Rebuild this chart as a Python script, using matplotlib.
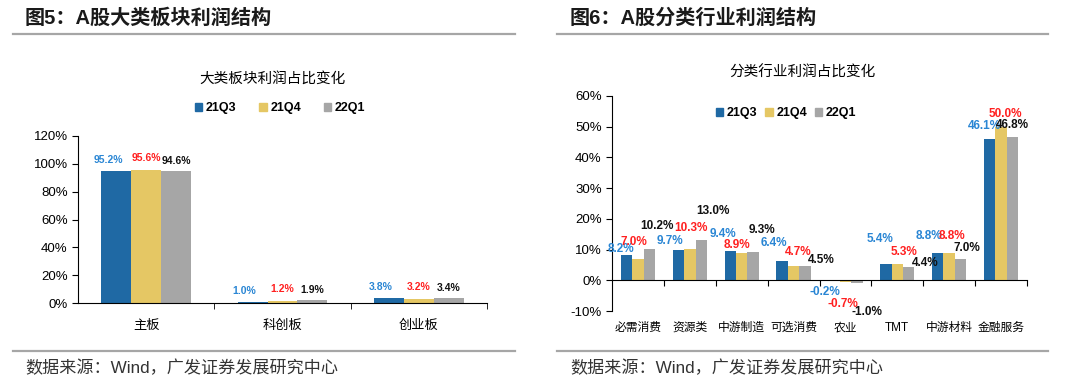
import matplotlib
matplotlib.use('Agg')
import matplotlib.pyplot as plt
from matplotlib.patches import Patch
from matplotlib.lines import Line2D
import numpy as np

plt.rcParams['font.family'] = ['Liberation Sans', 'Noto Sans CJK SC', 'DejaVu Sans']

series = ['21Q3', '21Q4', '22Q1']
bar_colors = ['#1F69A4', '#E5C764', '#A6A6A6']
label_colors = ['#2A86D4', '#FF2020', '#111111']

# 图5 data
board_cats = ['主板', '科创板', '创业板']
board_21q3 = [95.2, 1.0, 3.8]
board_21q4 = [95.6, 1.2, 3.2]
board_22q1 = [94.6, 1.9, 3.4]

# 图6 data
ind_cats = ['必需消费', '资源类', '中游制造', '可选消费', '农业', 'TMT', '中游材料', '金融服务']
ind_21q3 = [8.2, 9.7, 9.4, 6.4, -0.2, 5.4, 8.8, 46.1]
ind_21q4 = [7.0, 10.3, 8.9, 4.7, -0.7, 5.3, 8.8, 50.0]
ind_22q1 = [10.2, 13.0, 9.3, 4.5, -1.0, 4.4, 7.0, 46.8]

# label offsets in pixels (dx, dy) for the right chart, like the excel layout
ind_offsets = [
    [(-6, 6), (-8, 9), (-7, 17), (-8, 18), (-9, -11), (-6, 25), (-9, 17), (-5, 13)],
    [(-4, 17), (1, 21), (-5, 8), (5, 14), (-3, -22), (7, 12), (3, 17), (4, 13)],
    [(8, 23), (12, 29), (9, 22), (16, 6), (10, -29), (16, 4), (6, 11), (0, 12)],
]
board_offsets = [(-8, 11), (0, 12), (0, 10)]

W, H = 1080, 387
fig = plt.figure(figsize=(W / 100, H / 100), dpi=100)
bw = 0.22


def fx(px):
    return px / W


def fy(py):
    return 1 - py / H


# headers, rules and footnotes
for x0, x1, tx, title in [(13, 515, 25, '图5：A股大类板块利润结构'),
                          (557, 1048, 570, '图6：A股分类行业利润结构')]:
    fig.text(fx(tx), fy(18), title, fontsize=14.5, weight='bold', va='center', color='#1a1a1a')
    fig.add_artist(Line2D([fx(x0), fx(x1)], [fy(34), fy(34)], transform=fig.transFigure,
                          color='#A6A6A6', lw=1.6))
    fig.add_artist(Line2D([fx(x0), fx(x1)], [fy(351), fy(351)], transform=fig.transFigure,
                          color='#A6A6A6', lw=1.6))
    fig.text(fx(tx), fy(368), '数据来源：Wind，广发证券发展研究中心', fontsize=12.3,
             va='center', color='#333333')

# ---- left chart
ax1 = fig.add_axes([fx(78), fy(303), fx(487 - 78), (303 - 136) / H])
xs = np.arange(len(board_cats))
for j, vals in enumerate([board_21q3, board_21q4, board_22q1]):
    pos = xs + (j - 1) * bw
    ax1.bar(pos, vals, bw, color=bar_colors[j], label=series[j])
    for p, v in zip(pos, vals):
        dx, dy = board_offsets[j]
        ax1.annotate('%.1f%%' % v, (p, v), xytext=(dx, dy), textcoords='offset pixels',
                     ha='center', va='center', fontsize=7.5, weight='bold', color=label_colors[j])
ax1.set_xlim(-0.5, 2.5)
ax1.set_ylim(0, 120)
ax1.set_yticks(range(0, 121, 20))
ax1.set_yticklabels(['%d%%' % t for t in range(0, 121, 20)], fontsize=9.5)
ax1.set_xticks(xs)
ax1.set_xticklabels(board_cats, fontsize=9.5)
ax1.set_xticks([0.5, 1.5, 2.5], minor=True)
ax1.tick_params(axis='x', which='major', length=0, pad=12)
ax1.tick_params(axis='x', which='minor', length=4, direction='out')
ax1.tick_params(axis='y', length=4, direction='out')
ax1.spines['top'].set_visible(False)
ax1.spines['right'].set_visible(False)
fig.text(fx(272), fy(79), '大类板块利润占比变化', fontsize=10.5, ha='center', va='center')
handles = [Patch(color=c) for c in bar_colors]
fig.legend(handles, series, loc='center', bbox_to_anchor=(fx(280), fy(108)), ncol=3,
           frameon=False, handlelength=0.6, handleheight=0.6, handletextpad=0.3,
           columnspacing=1.8, prop={'size': 9, 'weight': 'bold'})

# ---- right chart
ax2 = fig.add_axes([fx(612), fy(311), fx(1027 - 612), (311 - 96) / H])
xs2 = np.arange(len(ind_cats))
for j, vals in enumerate([ind_21q3, ind_21q4, ind_22q1]):
    pos = xs2 + (j - 1) * bw
    ax2.bar(pos, vals, bw, color=bar_colors[j], label=series[j])
    for k, (p, v) in enumerate(zip(pos, vals)):
        dx, dy = ind_offsets[j][k]
        ax2.annotate('%.1f%%' % v, (p, v), xytext=(dx, dy), textcoords='offset pixels',
                     ha='center', va='center', fontsize=8.5, weight='bold', color=label_colors[j])
ax2.set_xlim(-0.5, 7.5)
ax2.set_ylim(-10, 60)
ax2.set_yticks(range(-10, 61, 10))
ax2.set_yticklabels(['%d%%' % t for t in range(-10, 61, 10)], fontsize=9.5)
ax2.spines['bottom'].set_position(('data', 0))
ax2.set_xticks(np.arange(0.5, 8, 1))
ax2.set_xticklabels([])
ax2.tick_params(axis='x', length=4, direction='out')
ax2.tick_params(axis='y', length=4, direction='out')
ax2.spines['top'].set_visible(False)
ax2.spines['right'].set_visible(False)
for i, c in enumerate(ind_cats):
    ax2.annotate(c, (i, 0), xycoords=('data', 'axes fraction'), xytext=(0, -17),
                 textcoords='offset pixels', ha='center', va='center', fontsize=8.5)
fig.text(fx(802), fy(73), '分类行业利润占比变化', fontsize=10.5, ha='center', va='center')
fig.legend(handles, series, loc='center', bbox_to_anchor=(fx(786), fy(113)), ncol=3,
           frameon=False, handlelength=0.6, handleheight=0.6, handletextpad=0.3,
           columnspacing=0.6, prop={'size': 9, 'weight': 'bold'})

fig.savefig('out.png', dpi=100)
